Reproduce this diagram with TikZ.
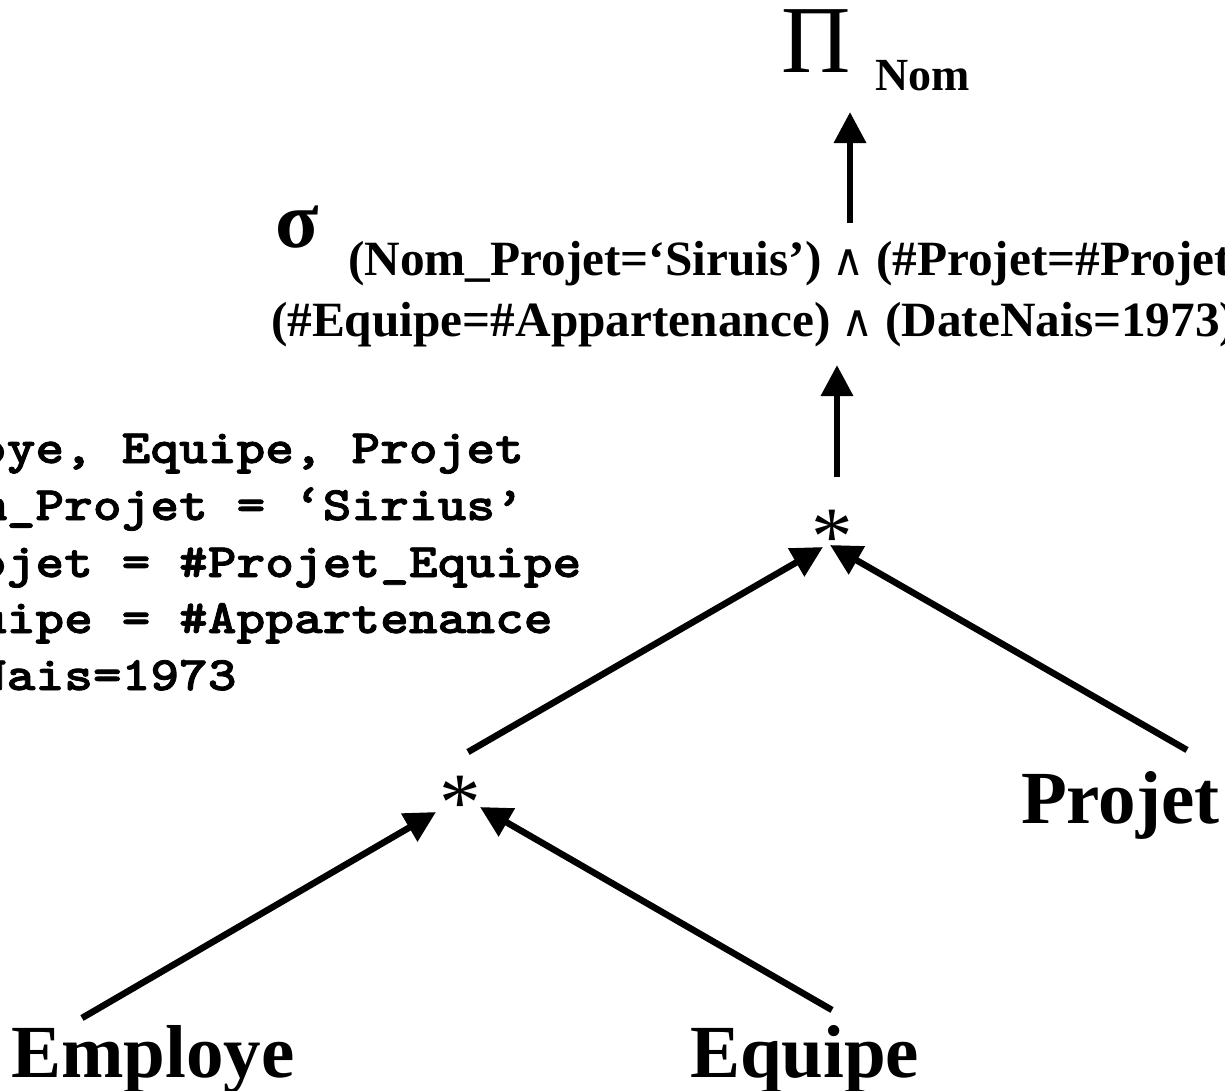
\documentclass[tikz,border=0pt]{standalone}
\usepackage{fontspec}
\setmainfont{Liberation Serif}
\newfontfamily\symfont{DejaVu Serif}
\newfontfamily\sqlfont[FakeBold=1.6]{lmmonolt10-bold.otf}
\usetikzlibrary{arrows.meta}
\newcommand{\andsym}{\makebox[30pt][c]{\symfont\mdseries\fontsize{44}{46}\selectfont ∧}}
\newcommand{\sqltext}[1]{\scalebox{1.14}[1]{#1}}
\tikzset{
  txt/.style={inner sep=0pt, outer sep=0pt, anchor=base west},
  rel/.style={txt, font=\fontsize{75}{90}\selectfont\bfseries},
  cond/.style={txt, font=\fontsize{49.3}{58}\selectfont\bfseries},
  sqlline/.style={txt, font=\fontsize{48}{57}\selectfont\sqlfont},
  star/.style={txt, font=\fontsize{83}{100}\selectfont},
  flow/.style={line width=6.5pt, -{Triangle[length=31pt,width=31pt]}},
}
\begin{document}
\begin{tikzpicture}[x=1pt,y=-1pt]
\useasboundingbox (0,0) rectangle (1225,1090);
\clip (0,0) rectangle (1225,1090);
% projection
\node[txt, font=\fontsize{96}{110}\selectfont] (pi) at (781,72) {Π};
\node[txt, font=\fontsize{46}{55}\selectfont\bfseries] (nom) at (875,90) {Nom};
% selection
\node[txt, font=\fontsize{80}{90}\selectfont\bfseries] (sigma) at (275,247) {σ};
\node[cond] (c1) at (348,275) {(Nom\_Projet=‘Siruis’) \andsym{} (\#Projet=\#Projet};
\node[cond] (c2) at (271,336) {(\#Equipe=\#Appartenance) \andsym{} (DateNais=1973)};
% SQL text
\node[sqlline] (s1) at (-22,463) {\sqltext{oye, Equipe, Projet}};
\node[sqlline] (s2) at (-22,520) {\sqltext{m\_Projet = ‘Sirius’}};
\node[sqlline] (s3) at (-22,577) {\sqltext{ojet = \#Projet\_Equipe}};
\node[sqlline] (s4) at (-22,633) {\sqltext{uipe = \#Appartenance}};
\node[sqlline] (s5) at (-22,690) {\sqltext{Nais=1973}};
% joins
\node[star] (j1) at (811,564) {*};
\node[star] (j2) at (439,830) {*};
% relations
\node[rel] (projet) at (1021,823) {Projet};
\node[rel] (employe) at (11,1077) {Employe};
\node[rel] (equipe) at (690,1077) {Equipe};
% arrow ends
\coordinate (aT) at (850,223); \coordinate (aH) at (850,112);
\coordinate (bT) at (837,477); \coordinate (bH) at (837,365);
\coordinate (cT) at (468,752); \coordinate (cH) at (823,547);
\coordinate (dT) at (1187,750); \coordinate (dH) at (830,545);
\coordinate (eT) at (82,1018); \coordinate (eH) at (436,812);
\coordinate (fT) at (832,1010); \coordinate (fH) at (480,807);
\draw[flow] (aT) -- (aH);
\draw[flow] (bT) -- (bH);
\draw[flow] (cT) -- (cH);
\draw[flow] (dT) -- (dH);
\draw[flow] (eT) -- (eH);
\draw[flow] (fT) -- (fH);
\end{tikzpicture}
\end{document}
